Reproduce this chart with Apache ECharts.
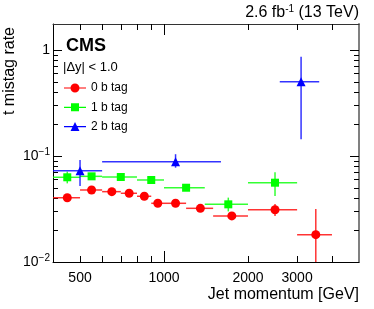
<!DOCTYPE html>
<html>
<head>
<meta charset="utf-8">
<script src="https://cdn.jsdelivr.net/npm/echarts@6/dist/echarts.min.js"></script>
<style>
html,body{margin:0;padding:0;background:#fff;}
#chart{width:374px;height:309px;}
</style>
</head>
<body>
<div id="chart"></div>
<script>
// ---- data ----
const seriesNames = ['0 b tag', '1 b tag', '2 b tag'];

const x0b   = [450, 550, 650, 750, 850, 950, 1100, 1350, 1750, 2500, 3500];
const x0bLo = [400, 500, 600, 700, 800, 900, 1000, 1200, 1500, 2000, 3000];
const x0bHi = [500, 600, 700, 800, 900, 1000, 1200, 1500, 2000, 3000, 4000];
const y0b   = [0.0404, 0.0478, 0.0461, 0.0445, 0.0417, 0.0358, 0.0358, 0.0321, 0.0272, 0.0311, 0.0181];
const y0bLo = [0.0392, 0.0466, 0.0450, 0.0433, 0.0405, 0.0347, 0.0346, 0.0308, 0.0250, 0.0272, 0.0080];
const y0bHi = [0.0416, 0.0490, 0.0472, 0.0457, 0.0429, 0.0369, 0.0370, 0.0334, 0.0295, 0.0353, 0.0316];

const x1b   = [450, 550, 700, 900, 1200, 1700, 2500];
const x1bLo = [400, 500, 600, 800, 1000, 1400, 2000];
const x1bHi = [500, 600, 800, 1000, 1400, 2000, 3000];
const y1b   = [0.0630, 0.0643, 0.0634, 0.0594, 0.0502, 0.0350, 0.0560];
const y1bLo = [0.0552, 0.0600, 0.0600, 0.0560, 0.0470, 0.0300, 0.0420];
const y1bHi = [0.0713, 0.0690, 0.0670, 0.0630, 0.0540, 0.0405, 0.0702];

const x2b   = [500, 1100, 3100];
const x2bLo = [400, 600, 2600];
const x2bHi = [600, 1600, 3600];
const y2b   = [0.0727, 0.0884, 0.502];
const y2bLo = [0.0521, 0.0776, 0.1437];
const y2bHi = [0.0917, 0.1040, 0.865];

const xMajorTicks = [1000];
const xMinorTicks = [500, 600, 700, 800, 900, 2000, 3000, 4000];
const xTickLabelsA = [500, 1000];
const xTickLabelsB = [2000];
const xTickLabelsC = [3000];
const yMajorTicks = [0.01, 0.1, 1];
const yMinorTicks = [0.02, 0.03, 0.04, 0.05, 0.06, 0.07, 0.08, 0.09, 0.2, 0.3, 0.4, 0.5, 0.6, 0.7, 0.8, 0.9];
const yTickLabels = [0.01, 0.1, 1];
const xTitle = 'Jet momentum [GeV]';
const yTitle = 't mistag rate';

// ---- chart ----
const FONT = '"Liberation Sans", Arial, Helvetica, sans-serif';
const colors = ['#ff0000', '#00ff00', '#0000ff'];
const symbols = ['circle', 'rect', 'triangle'];
const symbolSizes = [9, 8, 9];
const legendIcons = [
  'path://M0,4.4 H22 V5.6 H0 Z M15.5,5 A4.5,4.5 0 1 1 6.5,5 A4.5,4.5 0 1 1 15.5,5 Z',
  'path://M0,4.4 H22 V5.6 H0 Z M7,1 H15 V9 H7 Z',
  'path://M0,4.4 H22 V5.6 H0 Z M11,0.5 L15.5,9.5 L6.5,9.5 Z'
];

const groups = [
  [x0b, x0bLo, x0bHi, y0b, y0bLo, y0bHi],
  [x1b, x1bLo, x1bHi, y1b, y1bLo, y1bHi],
  [x2b, x2bLo, x2bHi, y2b, y2bLo, y2bHi]
];

const XMIN = 400, XMAX = 5000, YMIN = 0.01, YMAX = 1.76;

function xAxisCfg(pos, ticks, len, showLine, labels, lineColor, lineWidth) {
  return {
    type: 'log', logBase: 10, min: XMIN, max: XMAX, position: pos,
    axisLine: { show: showLine, lineStyle: { color: lineColor || '#000', width: lineWidth || 1 } },
    axisTick: ticks ? { show: true, inside: true, length: len, customValues: ticks, lineStyle: { color: '#000', width: 1 } } : { show: false },
    axisLabel: labels ? {
      show: true, customValues: labels, fontSize: 14, fontFamily: FONT, color: '#000', margin: 9,
      interval: 0, hideOverlap: false, showMinLabel: true, showMaxLabel: true,
      formatter: v => String(Math.round(v))
    } : { show: false },
    splitLine: { show: false }, minorTick: { show: false }
  };
}
function yAxisCfg(pos, ticks, len, showLine, showLabel, lineColor, lineWidth) {
  return {
    type: 'log', logBase: 10, min: YMIN, max: YMAX, position: pos,
    axisLine: { show: showLine, lineStyle: { color: lineColor || '#000', width: lineWidth || 1 } },
    axisTick: { show: true, inside: true, length: len, customValues: ticks, lineStyle: { color: '#000', width: 1 } },
    axisLabel: showLabel ? {
      show: true, customValues: yTickLabels, fontFamily: FONT, color: '#000', margin: 3,
      interval: 0, hideOverlap: false,
      formatter: v => {
        const e = Math.round(Math.log10(v));
        if (e === 0) return '{b|1}';
        return '{b|10}{s|\u2212' + (-e) + '}';
      },
      rich: {
        b: { fontSize: 14, fontFamily: FONT, color: '#000' },
        s: { fontSize: 10, fontFamily: FONT, color: '#000', padding: [0, 0, 8, 0] }
      }
    } : { show: false },
    splitLine: { show: false }, minorTick: { show: false }
  };
}

function errRender(color) {
  return function (params, api) {
    const x = api.value(0), xl = api.value(1), xh = api.value(2);
    const y = api.value(3), yl = api.value(4), yh = api.value(5);
    const pL = api.coord([xl, y]), pH = api.coord([xh, y]);
    const pB = api.coord([x, yl]), pT = api.coord([x, yh]);
    return {
      type: 'group',
      children: [
        { type: 'line', shape: { x1: pL[0], y1: pL[1], x2: pH[0], y2: pH[1] }, style: { stroke: color, lineWidth: 1.5, opacity: 0.8 } },
        { type: 'line', shape: { x1: pB[0], y1: pB[1], x2: pT[0], y2: pT[1] }, style: { stroke: color, lineWidth: 1.5, opacity: 0.8 } }
      ]
    };
  };
}

const series = [];
groups.forEach((g, i) => {
  const errData = g[0].map((_, k) => [g[0][k], g[1][k], g[2][k], g[3][k], g[4][k], g[5][k]]);
  series.push({
    type: 'custom', name: seriesNames[i] + ' err', xAxisIndex: 0, yAxisIndex: 0,
    renderItem: errRender(colors[i]), clip: true, silent: true,
    encode: { x: [0, 1, 2], y: [3, 4, 5] }, data: errData, z: 2
  });
});
groups.forEach((g, i) => {
  series.push({
    type: 'scatter', name: seriesNames[i], xAxisIndex: 0, yAxisIndex: 0,
    symbol: symbols[i], symbolSize: symbolSizes[i],
    itemStyle: { color: colors[i], opacity: 1 },
    data: g[0].map((v, k) => [v, g[3][k]]), z: 3
  });
});

const xMain = xAxisCfg('bottom', xMinorTicks, 6, true, xTickLabelsA);
xMain.name = xTitle;
xMain.nameLocation = 'end';
xMain.nameGap = 0;
xMain.nameMoveOverlap = false;
xMain.nameTextStyle = { fontSize: 16, fontFamily: FONT, color: '#000', align: 'right', verticalAlign: 'top', lineHeight: 66 };

const chart = echarts.init(document.getElementById('chart'), null, { renderer: 'canvas' });
chart.setOption({
  animation: false,
  backgroundColor: '#fff',
  color: colors,
  grid: { left: 53, right: 15, top: 24, bottom: 47, containLabel: false, outerBoundsMode: 'none' },
  xAxis: [
    xMain,
    xAxisCfg('bottom', xMajorTicks, 11, false, xTickLabelsB),
    xAxisCfg('top', xMinorTicks, 6, true, null, '#333', 1),
    xAxisCfg('top', xMajorTicks, 11, false, null),
    xAxisCfg('bottom', null, 0, false, xTickLabelsC)
  ],
  yAxis: [
    yAxisCfg('left', yMajorTicks, 9, true, true),
    yAxisCfg('left', yMinorTicks, 5, false, false),
    yAxisCfg('right', yMajorTicks, 9, true, false, '#808080', 2),
    yAxisCfg('right', yMinorTicks, 5, false, false)
  ],
  legend: {
    orient: 'vertical', left: 64, top: 82, padding: 0, itemWidth: 22, itemHeight: 10, itemGap: 7.3,
    selectedMode: false,
    textStyle: { fontSize: 12, fontFamily: FONT, color: '#000' },
    data: seriesNames.map((n, i) => ({ name: n, icon: legendIcons[i] }))
  },
  title: [
    { text: 'CMS', left: 66, top: 37, textStyle: { fontSize: 18, fontWeight: 'bold', fontFamily: FONT, color: '#000' }, padding: 0 },
    { text: '|\u0394y| < 1.0', left: 63, top: 61, textStyle: { fontSize: 13, fontWeight: 'normal', fontFamily: FONT, color: '#000' }, padding: 0 },
    {
      text: '{a|2.6 fb}{s|-1}{a| (13 TeV)}', right: 15, top: 4, padding: 0,
      textStyle: {
        fontWeight: 'normal',
        rich: {
          a: { fontSize: 16, fontWeight: 'normal', fontFamily: FONT, color: '#000' },
          s: { fontSize: 10, fontWeight: 'normal', fontFamily: FONT, color: '#000', padding: [0, 0, 8, 0] }
        }
      }
    }
  ],
  graphic: [
    { type: 'text', x: 10, y: 71, rotation: Math.PI / 2, z: 10,
      style: { text: yTitle, fontSize: 16, fontFamily: FONT, fill: '#000', textAlign: 'center', textVerticalAlign: 'middle' }
    }
  ],
  series: series
});
</script>
</body>
</html>
